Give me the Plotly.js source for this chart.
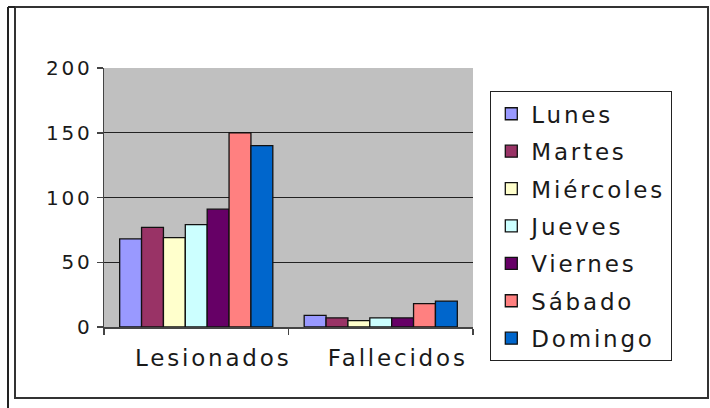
<!DOCTYPE html>
<html>
<head>
<meta charset="utf-8">
<script src="https://cdn.plot.ly/plotly-3.0.1.min.js"></script>
<style>
  html, body { margin: 0; padding: 0; background: #fff; }
  #chart { width: 710px; height: 408px; }
  text { letter-spacing: 2.8px; }
</style>
</head>
<body>
<div id="chart"></div>
<script>
// Categories on the x axis
const categories = ['Lesionados', 'Fallecidos'];

// One series per day of the week
const dayNames = ['Lunes', 'Martes', 'Miércoles', 'Jueves', 'Viernes', 'Sábado', 'Domingo'];
const lunes     = [68, 9];
const martes    = [77, 7];
const miercoles = [69, 5];
const jueves    = [79, 7];
const viernes   = [91, 7];
const sabado    = [150, 18];
const domingo   = [140, 20];

const yTicks = [0, 50, 100, 150, 200];

const seriesValues = [lunes, martes, miercoles, jueves, viernes, sabado, domingo];
const seriesColors = ['#9999FF', '#993366', '#FFFFCC', '#CCFFFF', '#660066', '#FF8080', '#0066CC'];

const traces = dayNames.map((name, i) => ({
  type: 'bar',
  name: name,
  x: categories,
  y: seriesValues[i],
  legendgroup: 'g' + i,
  marker: { color: seriesColors[i], line: { color: '#111', width: 1.3 } },
  hoverinfo: 'skip'
}));

// Plot area in pixels
const M = { l: 104, r: 237, t: 68, b: 81 };
const W = 710, H = 408;
const pw = W - M.l - M.r, ph = H - M.t - M.b;
const px = v => (v - M.l) / pw;
const py = v => (H - M.b - v) / ph;

const frameShapes = [
  // outer chart frame
  { type: 'rect', xref: 'paper', yref: 'paper', x0: px(15), x1: px(708), y0: py(398), y1: py(7),
    line: { color: '#333', width: 2 }, fillcolor: 'rgba(0,0,0,0)', layer: 'below' },
  { type: 'line', xref: 'paper', yref: 'paper', x0: px(8), x1: px(8), y0: py(408), y1: py(7),
    line: { color: '#222', width: 2 }, layer: 'below' },
  { type: 'line', xref: 'paper', yref: 'paper', x0: px(8), x1: px(15), y0: py(7), y1: py(7),
    line: { color: '#222', width: 2 }, layer: 'below' }
];

const layout = {
  width: W, height: H,
  margin: M,
  paper_bgcolor: '#ffffff',
  plot_bgcolor: '#C0C0C0',
  font: { family: 'DejaVu Sans, Arial, sans-serif', size: 20, color: '#1a1a1a' },
  barmode: 'group',
  bargap: 0.17,
  bargroupgap: 0,
  showlegend: true,
  legend: {
    x: px(490), y: py(91), xanchor: 'left', yanchor: 'top',
    bordercolor: '#222', borderwidth: 1.3, bgcolor: '#fff',
    font: { size: 23, color: '#1a1a1a' },
    traceorder: 'grouped', tracegroupgap: 4.5,
    maxheight: 380,
    itemclick: false, itemdoubleclick: false
  },
  xaxis: {
    type: 'category',
    showline: true, linecolor: '#444', linewidth: 1.5,
    ticks: 'outside', tickson: 'boundaries', ticklen: 6, tickcolor: '#444', tickwidth: 1.5,
    tickfont: { size: 23, color: '#1a1a1a' },
    ticklabelshift: 17, ticklabelstandoff: 10,
    showgrid: false, zeroline: false, fixedrange: true
  },
  yaxis: {
    range: [0, 200],
    tickvals: yTicks, ticktext: yTicks.map(String),
    showline: true, linecolor: '#444', linewidth: 1.5,
    ticks: 'outside', ticklen: 6, tickcolor: '#444', tickwidth: 1.5,
    tickfont: { size: 20, color: '#1a1a1a' },
    showgrid: true, gridcolor: '#222', gridwidth: 1.3,
    zeroline: false, fixedrange: true
  },
  shapes: frameShapes
};

Plotly.newPlot('chart', traces, layout, { displayModeBar: false, staticPlot: true });
</script>
</body>
</html>
